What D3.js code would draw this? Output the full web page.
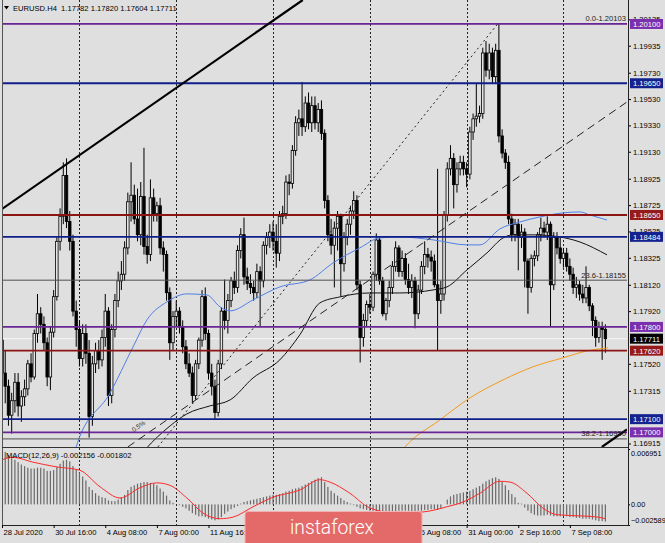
<!DOCTYPE html>
<html><head><meta charset="utf-8">
<script src="https://cdn.jsdelivr.net/npm/d3@7"></script>
<style>html,body{margin:0;padding:0;background:#e0e0e0;}svg{display:block}</style>
</head><body>
<svg id="chart" width="665" height="543"></svg>
<script>
// ---------- DATA ----------
const opens=[1.1770,1.1745,1.1735,1.1713,1.1724,1.1738,1.1720,1.1727,1.1733,1.1752,1.1742,1.1775,1.1790,1.1782,1.1768,1.1742,1.1776,1.1803,1.1845,1.1864,
1.1895,1.1860,1.1845,1.1792,1.1778,1.1756,1.1775,1.1760,1.1712,1.1752,1.1762,1.1755,1.1772,1.1792,1.1728,1.1778,1.1800,1.1815,1.1820,1.1840,
1.1875,1.1880,1.1862,1.1850,1.1879,1.1841,1.1835,1.1878,1.1866,1.1872,1.1840,1.1835,1.1806,1.1768,1.1788,1.1792,1.1780,1.1765,1.1752,1.1745,
1.1728,1.1752,1.1770,1.1803,1.1775,1.1745,1.1735,1.1715,1.1752,1.1792,1.1785,1.1800,1.1815,1.1810,1.1838,1.1850,1.1818,1.1813,1.1810,1.1806,
1.1822,1.1815,1.1842,1.1848,1.1852,1.1845,1.1836,1.1864,1.1866,1.1890,1.1889,1.1914,1.1935,1.1938,1.1932,1.1950,1.1935,1.1948,1.1935,1.1945,
1.1927,1.1876,1.1850,1.1842,1.1855,1.1864,1.1828,1.1848,1.1858,1.1868,1.1876,1.1812,1.1772,1.1785,1.1797,1.1795,1.1820,1.1846,1.1815,1.1790,
1.1800,1.1810,1.1826,1.1840,1.1822,1.1832,1.1816,1.1810,1.1815,1.1790,1.1808,1.1826,1.1835,1.1833,1.1830,1.1812,1.1800,1.1805,1.1865,1.1900,
1.1908,1.1888,1.1900,1.1905,1.1900,1.1896,1.1928,1.1938,1.1940,1.1942,1.1988,1.1975,1.1988,1.1970,1.1990,1.1925,1.1912,1.1905,1.1862,1.1850,
1.1858,1.1848,1.1852,1.1830,1.1810,1.1832,1.1834,1.1850,1.1855,1.1852,1.1858,1.1812,1.1848,1.1840,1.1832,1.1836,1.1826,1.1820,1.1810,1.1812,
1.1805,1.1802,1.1810,1.1796,1.1785,1.1772,1.1780,1.17782];
const highs=[1.1775,1.1762,1.1740,1.1730,1.1745,1.1745,1.1732,1.1740,1.1755,1.1760,1.1778,1.1805,1.1795,1.1788,1.1772,1.1780,1.1808,1.1848,1.1870,1.1905,
1.1908,1.1868,1.1850,1.1800,1.1785,1.1782,1.1782,1.1770,1.1758,1.1768,1.1770,1.1778,1.1805,1.1795,1.1782,1.1805,1.1822,1.1830,1.1845,1.1882,
1.1905,1.1888,1.1885,1.1890,1.1916,1.1850,1.1892,1.1885,1.1875,1.1878,1.1845,1.1838,1.1810,1.1792,1.1800,1.1795,1.1785,1.1770,1.1760,1.1750,
1.1755,1.1772,1.1808,1.1810,1.1778,1.1752,1.1740,1.1755,1.1795,1.1816,1.1805,1.1818,1.1822,1.1842,1.1855,1.1863,1.1825,1.1820,1.1815,1.1828,
1.1826,1.1845,1.1852,1.1858,1.1860,1.1858,1.1868,1.1872,1.1895,1.1896,1.1918,1.1940,1.1945,1.1966,1.1955,1.1958,1.1955,1.1955,1.1950,1.1952,
1.1930,1.1880,1.1862,1.1860,1.1868,1.1866,1.1852,1.1862,1.1872,1.1883,1.1880,1.1815,1.1790,1.1800,1.1805,1.1822,1.1851,1.1848,1.1818,1.1802,
1.1815,1.1830,1.1845,1.1842,1.1838,1.1836,1.1828,1.1820,1.1818,1.1812,1.1830,1.1845,1.1840,1.1838,1.1835,1.1900,1.1815,1.1868,1.1905,1.1918,
1.1912,1.1905,1.1910,1.1910,1.1905,1.1932,1.1942,1.1965,1.1948,1.1992,1.1997,1.1995,1.1992,1.1995,1.2010,1.1930,1.1915,1.1910,1.1866,1.1862,
1.1862,1.1858,1.1855,1.1832,1.1835,1.1838,1.1852,1.1863,1.1860,1.1864,1.1860,1.1852,1.1852,1.1848,1.1840,1.1840,1.1832,1.1825,1.1818,1.1815,
1.1812,1.1826,1.1812,1.1798,1.1788,1.1784,1.1784,1.17820];
const lows=[1.1728,1.1722,1.1705,1.1699,1.1715,1.1712,1.1708,1.1720,1.1728,1.1738,1.1740,1.1768,1.1775,1.1762,1.1735,1.1732,1.1772,1.1800,1.1838,1.1858,
1.1855,1.1838,1.1788,1.1765,1.1750,1.1750,1.1752,1.1696,1.1705,1.1745,1.1748,1.1750,1.1765,1.1720,1.1722,1.1772,1.1795,1.1808,1.1815,1.1835,
1.1860,1.1858,1.1845,1.1842,1.1835,1.1828,1.1830,1.1860,1.1860,1.1835,1.1822,1.1800,1.1755,1.1762,1.1780,1.1775,1.1760,1.1748,1.1742,1.1722,
1.1725,1.1748,1.1765,1.1770,1.1740,1.1728,1.1710,1.1712,1.1748,1.1778,1.1775,1.1795,1.1805,1.1806,1.1832,1.1812,1.1808,1.1805,1.1800,1.1802,
1.1780,1.1810,1.1835,1.1840,1.1838,1.1825,1.1830,1.1858,1.1862,1.1880,1.1885,1.1910,1.1925,1.1925,1.1928,1.1930,1.1928,1.1930,1.1928,1.1922,
1.1870,1.1845,1.1835,1.1810,1.1838,1.1803,1.1822,1.1842,1.1850,1.1862,1.1808,1.1753,1.1765,1.1780,1.1790,1.1792,1.1815,1.1812,1.1788,1.1785,
1.1795,1.1805,1.1822,1.1818,1.1818,1.1812,1.1805,1.1802,1.1779,1.1786,1.1805,1.1820,1.1825,1.1822,1.1810,1.1762,1.1790,1.1800,1.1860,1.1895,
1.1870,1.1882,1.1895,1.1895,1.1886,1.1892,1.1922,1.1932,1.1935,1.1938,1.1970,1.1968,1.1965,1.1965,1.1920,1.1908,1.1900,1.1858,1.1845,1.1845,
1.1823,1.1840,1.1810,1.1790,1.1806,1.1826,1.1830,1.1845,1.1848,1.1846,1.1780,1.1808,1.1835,1.1828,1.1825,1.1822,1.1815,1.1805,1.1802,1.1800,
1.1798,1.1798,1.1792,1.1773,1.1765,1.1768,1.1755,1.17604];
const closes=[1.1745,1.1735,1.1713,1.1724,1.1738,1.1720,1.1727,1.1733,1.1752,1.1742,1.1775,1.1790,1.1782,1.1768,1.1742,1.1776,1.1803,1.1845,1.1864,1.1895,
1.1860,1.1845,1.1792,1.1778,1.1756,1.1775,1.1760,1.1712,1.1752,1.1762,1.1755,1.1772,1.1792,1.1728,1.1778,1.1800,1.1815,1.1820,1.1840,1.1875,
1.1880,1.1862,1.1850,1.1879,1.1841,1.1835,1.1878,1.1866,1.1872,1.1840,1.1835,1.1806,1.1768,1.1788,1.1792,1.1780,1.1765,1.1752,1.1745,1.1728,
1.1752,1.1770,1.1803,1.1775,1.1745,1.1735,1.1715,1.1752,1.1792,1.1785,1.1800,1.1815,1.1810,1.1838,1.1850,1.1818,1.1813,1.1810,1.1806,1.1822,
1.1815,1.1842,1.1848,1.1852,1.1845,1.1836,1.1864,1.1866,1.1890,1.1889,1.1914,1.1935,1.1938,1.1932,1.1950,1.1935,1.1948,1.1935,1.1945,1.1927,
1.1876,1.1850,1.1842,1.1855,1.1864,1.1828,1.1848,1.1858,1.1868,1.1876,1.1812,1.1772,1.1785,1.1797,1.1795,1.1820,1.1846,1.1815,1.1790,1.1800,
1.1810,1.1826,1.1840,1.1822,1.1832,1.1816,1.1810,1.1815,1.1790,1.1808,1.1826,1.1835,1.1833,1.1830,1.1812,1.1800,1.1805,1.1865,1.1900,1.1908,
1.1888,1.1900,1.1905,1.1900,1.1896,1.1928,1.1938,1.1940,1.1942,1.1988,1.1975,1.1988,1.1970,1.1990,1.1925,1.1912,1.1905,1.1862,1.1850,1.1858,
1.1848,1.1852,1.1830,1.1810,1.1832,1.1834,1.1850,1.1855,1.1852,1.1858,1.1812,1.1848,1.1840,1.1832,1.1836,1.1826,1.1820,1.1810,1.1812,1.1805,
1.1802,1.1810,1.1796,1.1785,1.1772,1.1780,1.1778,1.17711];

// MACD main (histogram) and signal knots [bar, value]
const macdMain=[0.0069,0.0066,0.0062,0.0058,0.0056,0.0053,0.0050,0.0048,0.0046,0.0045,0.0045,0.0046,0.0046,0.0045,0.0042,0.0042,0.0043,0.0047,0.0051,0.0055,
0.0056,0.0054,0.0048,0.0044,0.0040,0.0035,0.0030,0.0022,0.0018,0.0014,0.0011,0.0009,0.0008,0.0005,0.0004,0.0004,0.0006,0.0009,0.0012,0.0018,
0.0022,0.0024,0.0026,0.0027,0.0028,0.0028,0.0027,0.0026,0.0024,0.0020,0.0016,0.0011,0.0005,0.0002,0.0000,-0.0001,-0.0003,-0.0005,-0.0008,-0.0011,
-0.0013,-0.0015,-0.0015,-0.0016,-0.0018,-0.0019,-0.0020,-0.0019,-0.0016,-0.0012,-0.0009,-0.0006,-0.0004,-0.0002,0.0001,0.0003,0.0004,0.0005,0.0006,0.0007,
0.0008,0.0009,0.0010,0.0011,0.0012,0.0012,0.0013,0.0014,0.0016,0.0017,0.0019,0.0020,0.0021,0.0023,0.0025,0.0027,0.0029,0.0031,0.0033,0.0034,
0.0028,0.0022,0.0017,0.0014,0.0011,0.0008,0.0005,0.0003,0.0001,-0.0001,-0.0003,-0.0005,-0.0006,-0.0007,-0.0008,-0.0008,-0.0009,-0.0009,-0.0010,-0.0010,
-0.0010,-0.0009,-0.0009,-0.0008,-0.0008,-0.0008,-0.0008,-0.0009,-0.0009,-0.0008,-0.0008,-0.0007,-0.0007,-0.0006,-0.0006,-0.0007,-0.0005,0.0000,0.0006,0.0010,
0.0012,0.0013,0.0014,0.0015,0.0016,0.0017,0.0019,0.0021,0.0023,0.0026,0.0029,0.0031,0.0033,0.0034,0.0032,0.0028,0.0024,0.0018,0.0013,0.0009,
0.0002,0.0001,-0.0004,-0.0008,-0.0011,-0.0013,-0.0014,-0.0014,-0.0014,-0.0013,-0.0014,-0.0015,-0.0015,-0.0015,-0.0015,-0.0015,-0.0016,-0.0016,-0.0017,-0.0017,
-0.0018,-0.0018,-0.0018,-0.0019,-0.0020,-0.0021,-0.0021,-0.002156];
const signalKnots=[[0,0.0056],[3.4,0.0059],[9.6,0.0053],[17,0.0047],[24,0.0043],[30.4,0.0022],[36.6,0.0008],[42.8,0.0021],[48,0.0027],[52,0.0024],
[57.3,0.0008],[62.3,-0.0011],[67.6,-0.0018],[71.6,-0.0016],[77.8,-0.0003],[84,0.0009],[92.3,0.0018],[98.5,0.0031],[101.6,0.0028],[107.8,0.0014],
[114,-0.00045],[122.4,-0.0011],[130.5,-0.00095],[137.9,-0.0003],[142.9,0.0003],[148.1,0.0014],[154.3,0.0029],[157.4,0.0028],[162.7,0.0014],
[167.6,-0.00045],[172,-0.0013],[180,-0.00146],[184.4,-0.00158],[187,-0.001802]];

// moving averages, knots [bar, price]
const maBlue=[[21.1,1.16715],[23.2,1.16905],[33.5,1.17299],[40.6,1.17648],[44.9,1.17853],[51.1,1.17990],[57.3,1.18051],[63.5,1.18043],[67.6,1.17952],
[70.7,1.17922],[77.8,1.18005],[86.1,1.18104],[95.4,1.18157],[102.6,1.18286],[110.9,1.18400],[117.1,1.18476],[123.3,1.18483],[133.6,1.18461],
[144.1,1.18423],[148.1,1.18423],[154.3,1.18544],[160.5,1.18597],[166.7,1.18635],[173.9,1.18666],[179.1,1.18673],[182.2,1.18650],[187.5,1.18612]];
const maBlack=[[42,1.1680],[44.3,1.16867],[52.1,1.17049],[57.3,1.17140],[64.5,1.17201],[70.7,1.17246],[77.8,1.17413],[86.1,1.17550],[92.3,1.17740],
[98.5,1.17982],[104.7,1.18028],[114,1.18058],[123.3,1.18058],[133.6,1.18081],[137.9,1.18104],[144.1,1.18233],[150.3,1.18362],[155.3,1.18476],
[158.4,1.18499],[164.6,1.18499],[172.9,1.18483],[179.1,1.18445],[187.5,1.18347]];
const maOrange=[[122,1.1680],[124.9,1.16889],[135.7,1.17094],[145.0,1.17261],[155.3,1.17398],[164.5,1.17497],[173.8,1.17565],[181.3,1.17618],[187.8,1.17641]];

// horizontal levels
const levelValues=[1.20100,1.19650,1.18650,1.18484,1.17800,1.17620,1.17100,1.17000];
const levelKinds=["purple","navy","red","navy","purple","red","navy","purple"];
const bidPrice=1.17711;
// fibonacci
const fibValues=[1.20103,1.18155,1.16950];
const fibLabels=["0.0-1.20103","23.6-1.18155","38.2-1.16950"];
const fanLabel="0.5%";
const fanLabelPos=[40.8,1.1700];
// trend lines [bar, price] pairs
const trendThick=[[[-0.62,1.18685],[93.2,1.20282]],[[185.9,1.16889],[193.7,1.17022]]];
const trendDotted=[[48.3,1.16889],[153.7,1.20103]];
const trendDashed=[[39.0,1.16889],[193.7,1.19508]];

// axes
const priceTicks=[1.20135,1.19935,1.19730,1.19530,1.19330,1.19130,1.18925,1.18725,1.18525,1.18325,1.18120,1.17920,1.17520,1.17315,1.16915];
const macdTicks=[0.006951,0,-0.002589];
const timeIdx=[0,16,32,48,64,80,96,112,128,144,160,176];
const timeLabels=["28 Jul 2020","30 Jul 16:00","4 Aug 08:00","7 Aug 00:00","11 Aug 16:00","14 Aug 08:00","19 Aug 00:00","21 Aug 16:00","26 Aug 08:00","31 Aug 00:00","2 Sep 16:00","7 Sep 08:00"];
const weekIdx=[24,54,84,114,144,174];
const headerText="EURUSD.H4  1.17782 1.17820 1.17604 1.17711";
const macdTitle="MACD(12,26,9) -0.002156 -0.001802";

// ---------- DRAW ----------
const svg=d3.select("#chart");
const FONT="'Liberation Sans', Arial, sans-serif";
const colors={purple:"#6a2597",navy:"#101e8a",red:"#8e1414"};
const boxColors={purple:"#7a2fae",navy:"#13228f",red:"#961a1a"};
const L=2,R=627,TOP=0,MB=447,M2T=449,M2B=525;
const LOGO={x:245,y:511.5,w:177};

const x=d3.scaleLinear().domain([-0.62,193.7]).range([0,627]);
const y=d3.scaleLinear().domain([1.16881,1.20282]).range([448,0]);
const ym=d3.scaleLinear().domain([-0.002589,0.006951]).range([M2B,M2T]);

svg.append("rect").attr("width",665).attr("height",543).attr("fill","#dfdfdf");
const defs=svg.append("defs");
defs.append("clipPath").attr("id","cMain").append("rect").attr("x",L).attr("y",TOP).attr("width",R-L).attr("height",MB-TOP);
defs.append("clipPath").attr("id","cMacd").append("rect").attr("x",L).attr("y",M2T).attr("width",R-L).attr("height",M2B-M2T);

// weekly separators
svg.append("g").selectAll("line").data(weekIdx).join("line")
 .attr("x1",d=>Math.round(x(d))+0.5).attr("x2",d=>Math.round(x(d))+0.5).attr("y1",0).attr("y2",M2B)
 .attr("stroke","#222").attr("stroke-width",1).attr("stroke-dasharray","2,2");

const gm=svg.append("g").attr("clip-path","url(#cMain)");
gm.append("line").attr("x1",L).attr("x2",R).attr("y1",y(bidPrice)).attr("y2",y(bidPrice)).attr("stroke","#f6f6f6").attr("stroke-width",1);

// candles
const idx=d3.range(closes.length);
gm.append("g").selectAll("line").data(idx).join("line")
 .attr("x1",i=>x(i)).attr("x2",i=>x(i)).attr("y1",i=>y(highs[i])).attr("y2",i=>y(lows[i]))
 .attr("stroke","#000").attr("stroke-width",1);
gm.append("g").selectAll("rect").data(idx).join("rect")
 .attr("x",i=>x(i)-1.25).attr("width",2.5)
 .attr("y",i=>y(Math.max(opens[i],closes[i])))
 .attr("height",i=>Math.max(0.8,Math.abs(y(opens[i])-y(closes[i]))))
 .attr("fill",i=>closes[i]>=opens[i]?"#e4e4e4":"#000")
 .attr("stroke","#000").attr("stroke-width",0.8);

// MAs
const maLine=d3.line().x(d=>x(d[0])).y(d=>y(d[1])).curve(d3.curveMonotoneX);
gm.append("path").attr("d",maLine(maBlue)).attr("fill","none").attr("stroke","#4f7fe6").attr("stroke-width",1);
gm.append("path").attr("d",maLine(maBlack)).attr("fill","none").attr("stroke","#111").attr("stroke-width",1);
gm.append("path").attr("d",maLine(maOrange)).attr("fill","none").attr("stroke","#f39a1e").attr("stroke-width",1);

// fib lines
gm.append("g").selectAll("line").data(fibValues).join("line")
 .attr("x1",L).attr("x2",R).attr("y1",d=>y(d)).attr("y2",d=>y(d)).attr("stroke","#505050").attr("stroke-width",1);
// horizontal levels
gm.append("g").selectAll("line").data(levelValues).join("line")
 .attr("x1",L).attr("x2",R).attr("y1",d=>y(d)).attr("y2",d=>y(d))
 .attr("stroke",(d,i)=>colors[levelKinds[i]]).attr("stroke-width",1.8);
// trend lines
const tl=d3.line().x(d=>x(d[0])).y(d=>y(d[1]));
gm.append("path").attr("d",tl(trendDotted)).attr("stroke","#222").attr("stroke-width",1).attr("stroke-dasharray","2,3").attr("fill","none");
gm.append("path").attr("d",tl(trendDashed)).attr("stroke","#222").attr("stroke-width",1).attr("stroke-dasharray","8,5").attr("fill","none");
trendThick.forEach(t=>gm.append("path").attr("d",tl(t)).attr("stroke","#000").attr("stroke-width",2.2).attr("fill","none"));
gm.append("text").attr("transform",`translate(${x(fanLabelPos[0])},${y(fanLabelPos[1])}) rotate(-35)`)
 .attr("font-family",FONT).attr("font-size",6.5).attr("fill","#333").text(fanLabel);

// fib labels
svg.append("g").selectAll("text").data(fibValues).join("text")
 .attr("x",626).attr("y",d=>y(d)-2.5).attr("text-anchor","end")
 .attr("font-family",FONT).attr("font-size",7.6).attr("fill","#222").text((d,i)=>fibLabels[i]);

// MACD pane
const gq=svg.append("g").attr("clip-path","url(#cMacd)");
gq.append("g").selectAll("rect").data(idx).join("rect")
 .attr("x",i=>x(i)-0.6).attr("width",1.2)
 .attr("y",i=>Math.min(ym(0),ym(macdMain[i]))).attr("height",i=>Math.abs(ym(macdMain[i])-ym(0)))
 .attr("fill","#6a6a6a");
gq.append("path").attr("d",d3.line().x(d=>x(d[0])).y(d=>ym(d[1])).curve(d3.curveMonotoneX)(signalKnots))
 .attr("fill","none").attr("stroke","#ff2a2a").attr("stroke-width",1);

// frames
svg.append("line").attr("x1",2.5).attr("x2",2.5).attr("y1",0).attr("y2",M2B).attr("stroke","#555");
svg.append("line").attr("x1",L).attr("x2",628).attr("y1",447.5).attr("y2",447.5).attr("stroke","#333").attr("stroke-width",1.2);

// right price axis
const ay=svg.append("g").attr("transform","translate(628,0)")
 .call(d3.axisRight(y).tickValues(priceTicks).tickFormat(d3.format(".5f")).tickSize(3).tickPadding(2));
ay.select(".domain").remove();
ay.selectAll("line").attr("stroke","#000");
ay.selectAll("text").attr("font-family",FONT).attr("font-size",7.6).attr("fill","#000");
// macd axis
const aq=svg.append("g").attr("transform","translate(628,0)")
 .call(d3.axisRight(ym).tickValues(macdTicks).tickFormat(d=>d===0?"0.00":d3.format(".6f")(d)).tickSize(2).tickPadding(1));
aq.select(".domain").remove();
aq.selectAll("line").attr("stroke","#000");
aq.selectAll("text").attr("font-family",FONT).attr("font-size",7.3).attr("fill","#000")
 .attr("dy",(d,i)=>i===0?"0.95em":(i===2?"-0.3em":"0.32em"));
svg.append("line").attr("x1",628.5).attr("x2",628.5).attr("y1",0).attr("y2",M2B+0.5).attr("stroke","#222");
svg.append("line").attr("x1",L).attr("x2",629).attr("y1",M2B+0.5).attr("y2",M2B+0.5).attr("stroke","#222");

// time axis (labels lying fully under the logo are not visible, skip them)
const visibleTime=timeIdx.filter(d=>!(x(d)>LOGO.x && x(d)+46<LOGO.x+LOGO.w));
const ax=svg.append("g").attr("transform",`translate(0,${M2B})`)
 .call(d3.axisBottom(x).tickValues(visibleTime).tickFormat(d=>timeLabels[timeIdx.indexOf(d)]).tickSize(3).tickPadding(2));
ax.select(".domain").remove();
ax.selectAll("line").attr("stroke","#000");
ax.selectAll("text").attr("text-anchor","start").attr("dx",1).attr("font-family",FONT).attr("font-size",7.6).attr("fill","#000");

// level boxes
const boxes=levelValues.map((v,i)=>({v,c:boxColors[levelKinds[i]]}));
boxes.push({v:bidPrice,c:"#000"});
const gb=svg.append("g").selectAll("g").data(boxes).join("g").attr("transform",d=>`translate(630,${y(d.v)})`);
gb.append("rect").attr("x",0).attr("y",-5).attr("width",33).attr("height",10).attr("fill",d=>d.c);
gb.append("text").attr("x",3).attr("y",3).attr("font-family",FONT).attr("font-size",7.6).attr("fill","#fff").text(d=>d3.format(".5f")(d.v));

// header texts
svg.append("path").attr("d","M4,6 L9,6 L6.5,9.5 Z").attr("fill","#000");
svg.append("text").attr("x",13).attr("y",11).attr("font-family",FONT).attr("font-size",7.6).attr("fill","#000")
 .attr("xml:space","preserve").style("white-space","pre").text(headerText);
svg.append("text").attr("x",6).attr("y",458).attr("font-family",FONT).attr("font-size",7.6).attr("fill","#000").text(macdTitle);

// logo
svg.append("rect").attr("x",LOGO.x).attr("y",LOGO.y).attr("width",LOGO.w).attr("height",40).attr("rx",3)
 .attr("fill","#e46a6a").attr("stroke","#f2b0b0").attr("stroke-width",1);
svg.append("text").attr("x",290).attr("y",534).attr("font-family","Roboto, 'Open Sans', sans-serif").attr("font-weight",300)
 .attr("font-size",21).attr("fill","#fff").attr("textLength",84).attr("lengthAdjust","spacingAndGlyphs").text("instaforex");
</script>
</body></html>
